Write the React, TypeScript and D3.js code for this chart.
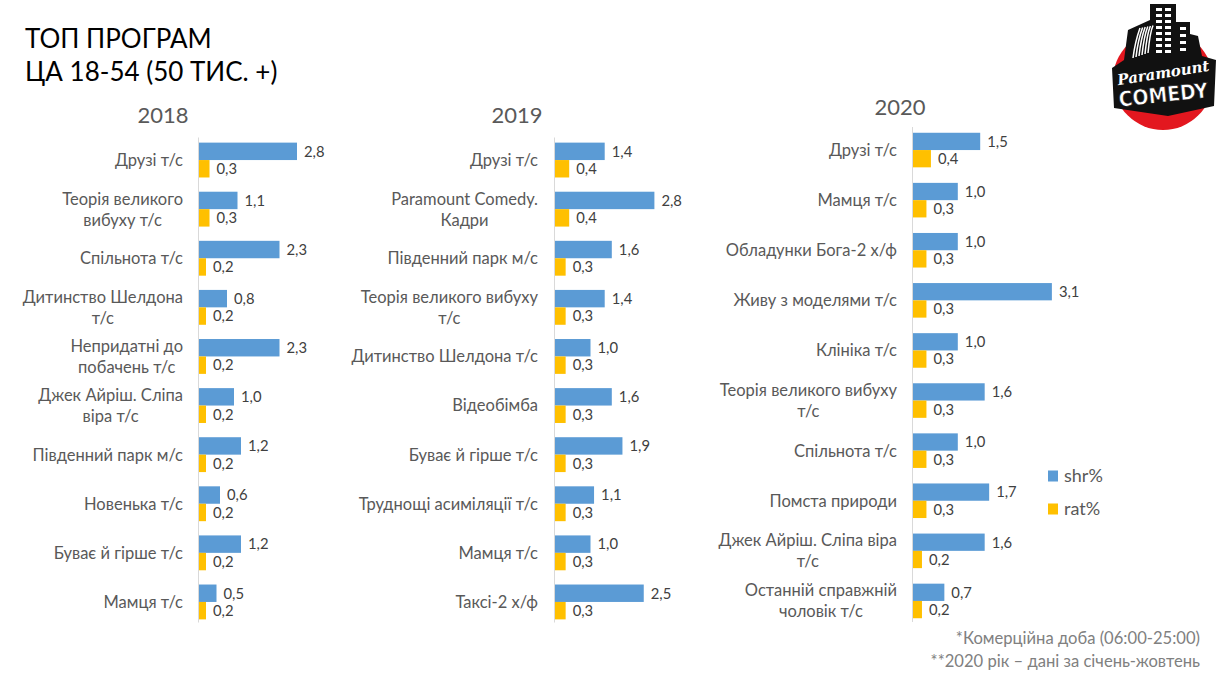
import React, { useEffect, useRef } from 'react';
import * as d3 from 'd3';

const SERIES = ['shr%', 'rat%'];
const COLORS = ['#5B9BD5', '#FFC000'];

const categories2018 = [
  'Друзі т/с',
  'Теорія великого\nвибуху т/с',
  'Спільнота т/с',
  'Дитинство Шелдона\nт/с',
  'Непридатні до\nпобачень т/с',
  'Джек Айріш. Сліпа\nвіра т/с',
  'Південний парк м/с',
  'Новенька т/с',
  'Буває й гірше т/с',
  'Мамця т/с',
];
const shr2018 = [2.8, 1.1, 2.3, 0.8, 2.3, 1.0, 1.2, 0.6, 1.2, 0.5];
const rat2018 = [0.3, 0.3, 0.2, 0.2, 0.2, 0.2, 0.2, 0.2, 0.2, 0.2];

const categories2019 = [
  'Друзі т/с',
  'Paramount Comedy.\nКадри',
  'Південний парк м/с',
  'Теорія великого вибуху\nт/с',
  'Дитинство Шелдона т/с',
  'Відеобімба',
  'Буває й гірше т/с',
  'Труднощі асиміляції т/с',
  'Мамця т/с',
  'Таксі-2 х/ф',
];
const shr2019 = [1.4, 2.8, 1.6, 1.4, 1.0, 1.6, 1.9, 1.1, 1.0, 2.5];
const rat2019 = [0.4, 0.4, 0.3, 0.3, 0.3, 0.3, 0.3, 0.3, 0.3, 0.3];

const categories2020 = [
  'Друзі т/с',
  'Мамця т/с',
  'Обладунки Бога-2 х/ф',
  'Живу з моделями т/с',
  'Клініка т/с',
  'Теорія великого вибуху\nт/с',
  'Спільнота т/с',
  'Помста природи',
  'Джек Айріш. Сліпа віра\nт/с',
  'Останній справжній\nчоловік т/с',
];
const shr2020 = [1.5, 1.0, 1.0, 3.1, 1.0, 1.6, 1.0, 1.7, 1.6, 0.7];
const rat2020 = [0.4, 0.3, 0.3, 0.3, 0.3, 0.3, 0.3, 0.3, 0.2, 0.2];

const TITLE_LINES = ['ТОП ПРОГРАМ', 'ЦА 18-54 (50 ТИС. +)'];
const FOOTNOTES = ['*Комерційна доба (06:00-25:00)', '**2020 рік – дані за січень-жовтень'];

const W = 1228;
const H = 684;
const FONT = 'Lato, "Open Sans", "Noto Sans", sans-serif';

const fmt = (v: number) => v.toFixed(1).replace('.', ',');

export default function App() {
  const ref = useRef<SVGSVGElement>(null);

  useEffect(() => {
    const svg = d3.select(ref.current);
    svg.selectAll('*').remove();
    svg.append('rect').attr('width', W).attr('height', H).attr('fill', '#fff');

    // Title
    TITLE_LINES.forEach((t, i) => {
      svg.append('text')
        .attr('x', 25).attr('y', 48 + i * 33)
        .attr('font-family', FONT).attr('font-size', 26)
        .attr('fill', '#000').text(t);
    });

    const panels = [
      { year: '2018', cats: categories2018, shr: shr2018, rat: rat2018, axisX: 199, top: 135.5, bottom: 626.5, unit: 35, labelRight: 183, yearX: 163, yearY: 123, pad: 0.29 },
      { year: '2019', cats: categories2019, shr: shr2019, rat: rat2019, axisX: 555, top: 135.5, bottom: 626.5, unit: 35.5, labelRight: 538, yearX: 517, yearY: 123, pad: 0.29 },
      { year: '2020', cats: categories2020, shr: shr2020, rat: rat2020, axisX: 913, top: 125, bottom: 626, unit: 44.8, labelRight: 897, yearX: 900, yearY: 115, pad: 0.31 },
    ];

    panels.forEach((p) => {
      const g = svg.append('g');
      const x = d3.scaleLinear().domain([0, 3]).range([p.axisX, p.axisX + 3 * p.unit]);
      const y = d3.scaleBand<string>().domain(p.cats).range([p.top, p.bottom])
        .paddingInner(p.pad).paddingOuter(p.pad / 2);
      const sub = d3.scaleBand<string>().domain(SERIES).range([0, y.bandwidth()]);

      g.append('text')
        .attr('x', p.yearX).attr('y', p.yearY)
        .attr('text-anchor', 'middle')
        .attr('font-family', FONT).attr('font-size', 22)
        .attr('fill', '#595959').text(p.year);

      // axis line
      g.append('line')
        .attr('x1', x(0) - 0.5).attr('x2', x(0) - 0.5)
        .attr('y1', p.top + 2).attr('y2', p.bottom - 4)
        .attr('stroke', '#d9d9d9').attr('stroke-width', 1);

      p.cats.forEach((c, i) => {
        const vals = [p.shr[i], p.rat[i]];
        const by = y(c)!;
        vals.forEach((v, s) => {
          const yy = by + sub(SERIES[s])!;
          g.append('rect')
            .attr('x', x(0)).attr('y', yy)
            .attr('width', x(v) - x(0)).attr('height', sub.bandwidth())
            .attr('fill', COLORS[s]);
          g.append('text')
            .attr('x', x(v) + 7).attr('y', yy + sub.bandwidth() / 2)
            .attr('dy', '0.36em')
            .attr('font-family', FONT).attr('font-size', 14.8)
            .attr('fill', '#404040').text(fmt(v));
        });

        // category label (lines centered as a block, block right-aligned)
        const lines = c.split('\n');
        const cy = by + y.bandwidth() / 2;
        const texts = lines.map((ln, k) =>
          g.append('text')
            .attr('y', cy + (k - (lines.length - 1) / 2) * 21)
            .attr('dy', '0.36em')
            .attr('font-family', FONT).attr('font-size', 16.5)
            .attr('fill', '#595959').text(ln)
        );
        const widths = texts.map((t) => (t.node() as SVGTextElement).getComputedTextLength());
        const maxW = Math.max(...widths);
        const center = p.labelRight - maxW / 2;
        texts.forEach((t) => t.attr('x', center).attr('text-anchor', 'middle'));
      });
    });

    // Legend
    SERIES.forEach((s, i) => {
      const ly = 476 + i * 33;
      svg.append('rect').attr('x', 1048).attr('y', ly - 5.5).attr('width', 10).attr('height', 11).attr('fill', COLORS[i]);
      svg.append('text').attr('x', 1064).attr('y', ly).attr('dy', '0.36em')
        .attr('font-family', FONT).attr('font-size', 18).attr('fill', '#595959').text(s);
    });

    // Footnotes
    FOOTNOTES.forEach((t, i) => {
      svg.append('text').attr('x', 1200).attr('y', 638 + i * 23).attr('dy', '0.36em')
        .attr('text-anchor', 'end')
        .attr('font-family', FONT).attr('font-size', 16.6).attr('fill', '#808080').text(t);
    });

    // Logo (simplified Paramount Comedy)
    const lg = svg.append('g');
    lg.append('circle').attr('cx', 1163).attr('cy', 80).attr('r', 50).attr('fill', '#e3171f');
    lg.append('path')
      .attr('d', 'M1124,60 L1128,30 L1150,20 L1150,4 L1176,4 L1176,22 L1190,22 L1190,34 L1198,36 L1202,56 L1216,60 L1214,106 L1168,116 L1114,108 L1112,68 Z')
      .attr('fill', '#111');
    // striped curved building
    for (let k = 0; k < 6; k++) {
      lg.append('path')
        .attr('d', `M${1133 + k * 3},${58 - k} Q${1135 + k * 3},${42 - k * 2} ${1140 + k * 2.6},${28 - k * 0.5}`)
        .attr('stroke', '#fff').attr('stroke-width', 1.5).attr('fill', 'none');
    }
    // windows
    for (let r = 0; r < 8; r++) {
      for (let cI = 0; cI < 2; cI++) {
        lg.append('rect').attr('x', 1156 + cI * 9).attr('y', 8 + r * 6).attr('width', 6).attr('height', 3).attr('fill', '#fff');
      }
    }
    for (let r = 0; r < 4; r++) {
      lg.append('rect').attr('x', 1180).attr('y', 27 + r * 7).attr('width', 6).attr('height', 3).attr('fill', '#fff');
    }
    lg.append('text').attr('x', 1164).attr('y', 78)
      .attr('text-anchor', 'middle').attr('transform', 'rotate(-9 1164 78)')
      .attr('font-family', '"DejaVu Serif", serif').attr('font-style', 'italic').attr('font-weight', 'bold')
      .attr('font-size', 15).attr('fill', '#fff').text('Paramount');
    lg.append('text').attr('x', 1164).attr('y', 102)
      .attr('text-anchor', 'middle').attr('transform', 'rotate(-6 1164 102)')
      .attr('font-family', '"DejaVu Sans Condensed", "DejaVu Sans", sans-serif').attr('font-weight', 'bold')
      .attr('font-size', 21).attr('fill', '#fff').attr('stroke', '#111').attr('stroke-width', 0.6).text('COMEDY');
  }, []);

  return (
    <svg
      ref={ref}
      width={W}
      height={H}
      style={{ position: 'absolute', left: 0, top: 0, display: 'block' }}
    />
  );
}
